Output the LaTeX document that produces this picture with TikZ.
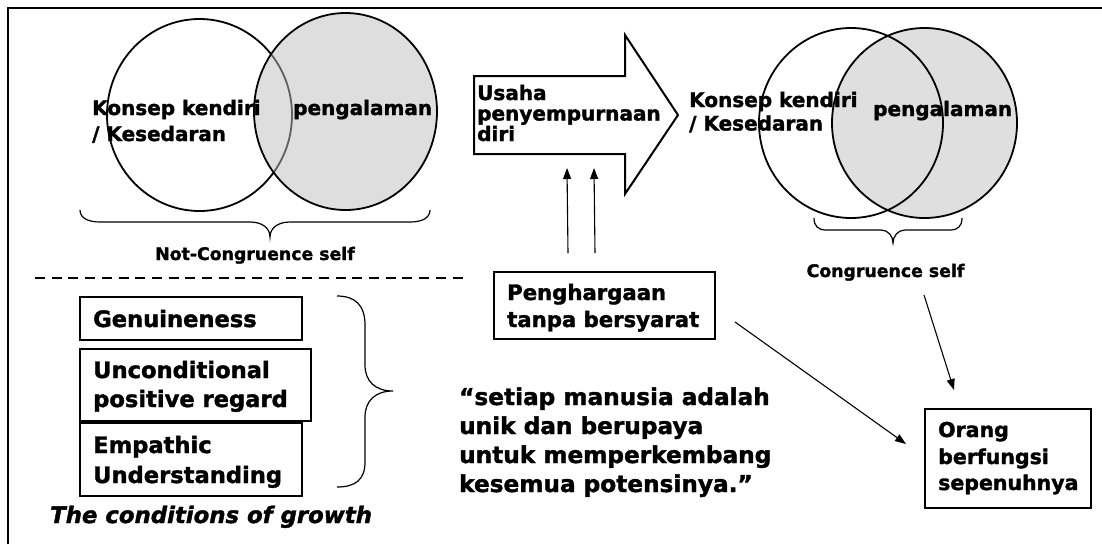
\documentclass[tikz,border=0pt]{standalone}
\usepackage{fontspec}
\setmainfont{DejaVu Sans}[BoldFeatures={FakeBold=1.6},BoldItalicFeatures={FakeBold=1.6}]
\usetikzlibrary{arrows.meta}
\begin{document}
\begin{tikzpicture}[x=1pt,y=-1pt,
  txt/.style={inner sep=0pt,anchor=base west},
  ctxt/.style={inner sep=0pt,anchor=base},
  fcirc/.style={font=\fontsize{20}{24}\selectfont\bfseries},
  fsmall/.style={font=\fontsize{17.3}{20}\selectfont\bfseries},
  fcond/.style={font=\fontsize{22.6}{27}\selectfont\bfseries},
  fpeng/.style={font=\fontsize{21.2}{26}\selectfont\bfseries},
  fquote/.style={font=\fontsize{23.2}{28}\selectfont\bfseries},
  forang/.style={font=\fontsize{20.5}{25}\selectfont\bfseries},
  fgrowth/.style={font=\fontsize{22.8}{27}\selectfont\bfseries\itshape},
  boxst/.style={draw,line width=2pt,inner sep=0pt,anchor=north west},
  arr/.style={line width=1.1pt,-{Triangle[length=11pt,width=8pt]}},
  brc/.style={line width=1.2pt},
  venn/.style={line width=1.8pt},
]
\useasboundingbox (0,0) rectangle (1102,544);
\fill[white] (0,0) rectangle (1102,544);
% frame
\draw[line width=2.5pt] (8,544) -- (8,8) -- (1102,8);

% left venn (not congruent)
\draw[venn] (199.5,115) ellipse [x radius=92.5pt, y radius=96pt];
\fill[gray!50, fill opacity=0.5] (345.5,111.5) ellipse [x radius=91.5pt, y radius=98.5pt];
\draw[venn] (345.5,111.5) ellipse [x radius=91.5pt, y radius=98.5pt];
\node[txt,fcirc] (lk1) at (92,115) {Konsep kendiri};
\node[txt,fcirc] (lk2) at (92,141) {/ Kesedaran};
\node[txt,fcirc] (lp) at (293,115) {pengalaman};
\draw[brc] (80,210) .. controls (80,218) and (88,222) .. (100,222) -- (250,222)
  .. controls (262,222) and (270,228) .. (270,237)
  .. controls (270,228) and (278,222) .. (290,222) -- (410,222)
  .. controls (422,222) and (430,218) .. (430,210);
\node[ctxt,fsmall] (ncs) at (255,260) {Not-Congruence self};

% dashed separator
\draw[line width=2pt, dash pattern=on 10pt off 6.7pt] (35,278) -- (463,278);

% block arrow
\draw[line width=2pt, line join=miter] (474,76) -- (625,76) -- (625,35) -- (678,115)
  -- (625,194) -- (625,154) -- (474,154) -- cycle;
\coordinate (arrSW) at (474,154);
\node[txt,fcirc] (u1) at (477,100) {Usaha};
\node[txt,fcirc] (u2) at (477,120.5) {penyempurnaan};
\node[txt,fcirc] (u3) at (477,141) {diri};

% right venn (congruent)
\fill[gray!25] (924.5,123) ellipse [x radius=92.5pt, y radius=95pt];
\draw[venn] (851,123) ellipse [x radius=92pt, y radius=95pt];
\draw[venn] (924.5,123) ellipse [x radius=92.5pt, y radius=95pt];
\node[txt,fcirc] (rk1) at (689,107) {Konsep kendiri};
\node[txt,fcirc] (rk2) at (689,130.5) {/ Kesedaran};
\node[txt,fcirc] (rp) at (873,116) {pengalaman};
\draw[brc] (814,218) .. controls (814,226) and (818,230) .. (826,230) -- (881,230)
  .. controls (888,230) and (893,236) .. (893,243)
  .. controls (893,236) and (898,230) .. (905,230) -- (950,230)
  .. controls (958,230) and (962,226) .. (962,218);
\node[ctxt,fsmall] (cs) at (885.5,277) {Congruence self};

% conditions of growth
\node[boxst, minimum width=222pt, minimum height=43pt] (gen) at (79,296) {};
\node[boxst, minimum width=231pt, minimum height=72pt] (unc) at (79,348) {};
\node[boxst, minimum width=222pt, minimum height=73pt] (emp) at (79,422) {};
\node[txt,fcond] (t1) at (93,327) {Genuineness};
\node[txt,fcond] (t2) at (93,378) {Unconditional};
\node[txt,fcond] (t3) at (93,407) {positive regard};
\node[txt,fcond] (t4) at (93,453) {Empathic};
\node[txt,fcond] (t5) at (93,483) {Understanding};
\draw[brc] (337,296) .. controls (355,296) and (365,305) .. (365,325) -- (365,365)
  .. controls (365,381) and (375,391) .. (393,391)
  .. controls (375,391) and (365,401) .. (365,417) -- (365,462)
  .. controls (365,480) and (355,487) .. (337,487);
\node[txt,fgrowth] (grow) at (50,523) {The conditions of growth};

% penghargaan
\node[boxst, minimum width=221pt, minimum height=67pt] (peng) at (493,271) {};
\node[txt,fpeng] (p1) at (507,300) {Penghargaan};
\node[txt,fpeng] (p2) at (507,327) {tanpa bersyarat};
\draw[arr] ([shift={(-36.5,-18)}]peng.north) -- ([shift={(93,14)}]arrSW);
\draw[arr] ([shift={(-9.5,-18)}]peng.north) -- ([shift={(120,14)}]arrSW);

% quote
\node[txt,fquote] (q1) at (459,405) {“setiap manusia adalah};
\node[txt,fquote] (q2) at (459,434) {unik dan berupaya};
\node[txt,fquote] (q3) at (459,463) {untuk memperkembang};
\node[txt,fquote] (q4) at (459,492) {kesemua potensinya.”};

% orang berfungsi
\node[boxst, minimum width=166pt, minimum height=99pt] (orang) at (924,408) {};
\node[txt,forang] (o1) at (938,437) {Orang};
\node[txt,forang] (o2) at (938,464) {berfungsi};
\node[txt,forang] (o3) at (938,490) {sepenuhnya};
\draw[arr] ([shift={(19,16.5)}]peng.east) -- ([shift={(-18,-14.5)}]orang.west);
\draw[arr] ([shift={(38.5,18)}]cs.base) -- ([shift={(-54,-18)}]orang.north);
\end{tikzpicture}
\end{document}
